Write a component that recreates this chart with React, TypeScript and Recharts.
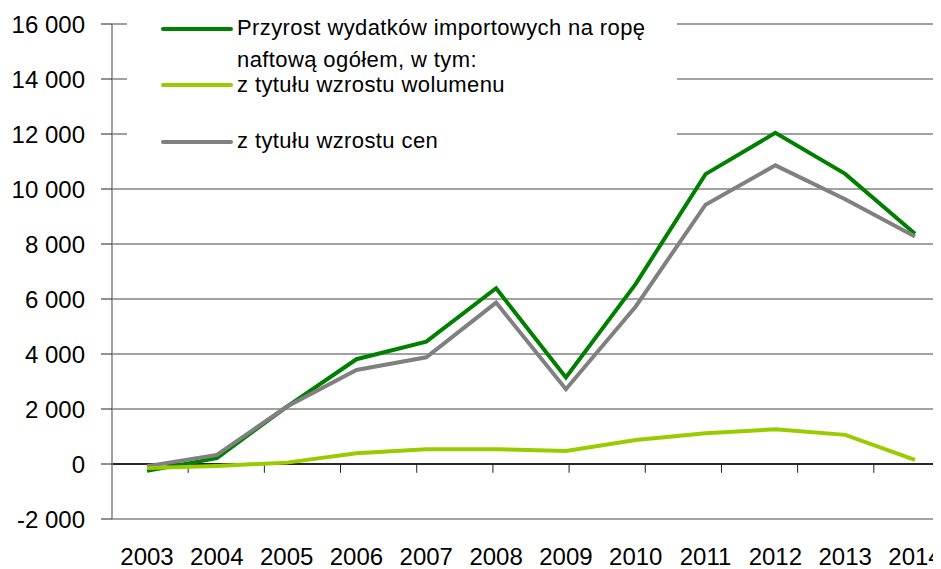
import {
  LineChart,
  Line,
  XAxis,
  YAxis,
  CartesianGrid,
  ReferenceLine,
  Legend,
} from "recharts";

const years = [
  "2003", "2004", "2005", "2006", "2007", "2008",
  "2009", "2010", "2011", "2012", "2013", "2014",
];
// przyrost wydatków ogółem
const totalGrowth = [-250, 210, 2080, 3810, 4450, 6390, 3150, 6550, 10540, 12040, 10550, 8370];
// z tytułu wzrostu wolumenu
const volumeGrowth = [-150, -70, 50, 390, 540, 540, 470, 870, 1120, 1260, 1060, 150];
// z tytułu wzrostu cen
const priceGrowth = [-80, 330, 2080, 3420, 3880, 5870, 2720, 5730, 9430, 10860, 9630, 8270];

const yTicks = [-2000, 0, 2000, 4000, 6000, 8000, 10000, 12000, 14000, 16000];

const totalName = ["Przyrost wydatków importowych na ropę", "naftową ogółem, w tym:"];
const volumeName = "z tytułu wzrostu wolumenu";
const priceName = "z tytułu wzrostu cen";

const GREEN = "#008000";
const LIME = "#99CC00";
const GRAY = "#808080";
const FONT = "'Liberation Sans', Arial, sans-serif";

const data = years.map((year, i) => ({
  year,
  total: totalGrowth[i],
  volume: volumeGrowth[i],
  price: priceGrowth[i],
}));

// band boundaries on the zero line (between the years)
const boundaries = years.map((_, i) => i).slice(1);

const formatTick = (v: number) => {
  const abs = Math.abs(v);
  if (abs < 1000) return String(v);
  const s = `${Math.floor(abs / 1000)} ${String(abs % 1000).padStart(3, "0")}`;
  return v < 0 ? `-${s}` : s;
};

const LegendBox = () => (
  <svg width={550} height={150} style={{ display: "block" }}>
    <rect width={550} height={150} fill="#fff" />
    <g fontFamily={FONT} fontSize={22} letterSpacing={0.4} fill="#000">
      <line x1={36} x2={104} y1={21} y2={21} stroke={GREEN} strokeWidth={4} strokeLinecap="round" />
      <text x={110} y={27}>
        <tspan x={110} y={27}>{totalName[0]}</tspan>
        <tspan x={110} y={59}>{totalName[1]}</tspan>
      </text>
      <line x1={36} x2={104} y1={77} y2={77} stroke={LIME} strokeWidth={4} strokeLinecap="round" />
      <text x={110} y={84}>{volumeName}</text>
      <line x1={36} x2={104} y1={134} y2={134} stroke={GRAY} strokeWidth={4} strokeLinecap="round" />
      <text x={110} y={140}>{priceName}</text>
    </g>
  </svg>
);

export default function App() {
  return (
    <div style={{ width: 933, height: 561, overflow: "hidden", position: "relative" }}>
      <LineChart
        width={942}
        height={561}
        data={data}
        margin={{ top: 16, right: 0, bottom: 0, left: 0 }}
      >
        <CartesianGrid vertical={false} stroke="#444" />
        <XAxis
          dataKey="year"
          height={50}
          padding={{ left: 35, right: 35 }}
          axisLine={false}
          tickLine={false}
          tickSize={0}
          tickMargin={29}
          interval={0}
          tick={{ fill: "#000", fontSize: 24, fontFamily: FONT }}
        />
        <XAxis xAxisId="b" type="number" domain={[0, 12]} hide />
        <YAxis
          width={104}
          domain={[-2000, 16000]}
          ticks={yTicks}
          interval={0}
          tickFormatter={formatTick}
          axisLine={{ stroke: GRAY, strokeWidth: 1.5 }}
          tickLine={{ stroke: "#222" }}
          tickSize={11}
          tickMargin={16}
          tick={{ fill: "#000", fontSize: 24, fontFamily: FONT }}
        />
        <ReferenceLine y={0} stroke="#000" strokeWidth={1.3} />
        {boundaries.map((b) => (
          <ReferenceLine
            key={b}
            xAxisId="b"
            segment={[
              { x: b, y: 0 },
              { x: b, y: -320 },
            ]}
            stroke="#222"
          />
        ))}
        <Legend
          layout="vertical"
          verticalAlign="middle"
          align="center"
          wrapperStyle={{ left: 119, top: 0, width: 550, height: 150 }}
          content={() => <LegendBox />}
        />
        <Line
          dataKey="total"
          name={totalName.join(" ")}
          stroke={GREEN}
          strokeWidth={4}
          dot={false}
          isAnimationActive={false}
        />
        <Line
          dataKey="price"
          name={priceName}
          stroke={GRAY}
          strokeWidth={4}
          dot={false}
          isAnimationActive={false}
        />
        <Line
          dataKey="volume"
          name={volumeName}
          stroke={LIME}
          strokeWidth={4}
          dot={false}
          isAnimationActive={false}
        />
      </LineChart>
    </div>
  );
}
